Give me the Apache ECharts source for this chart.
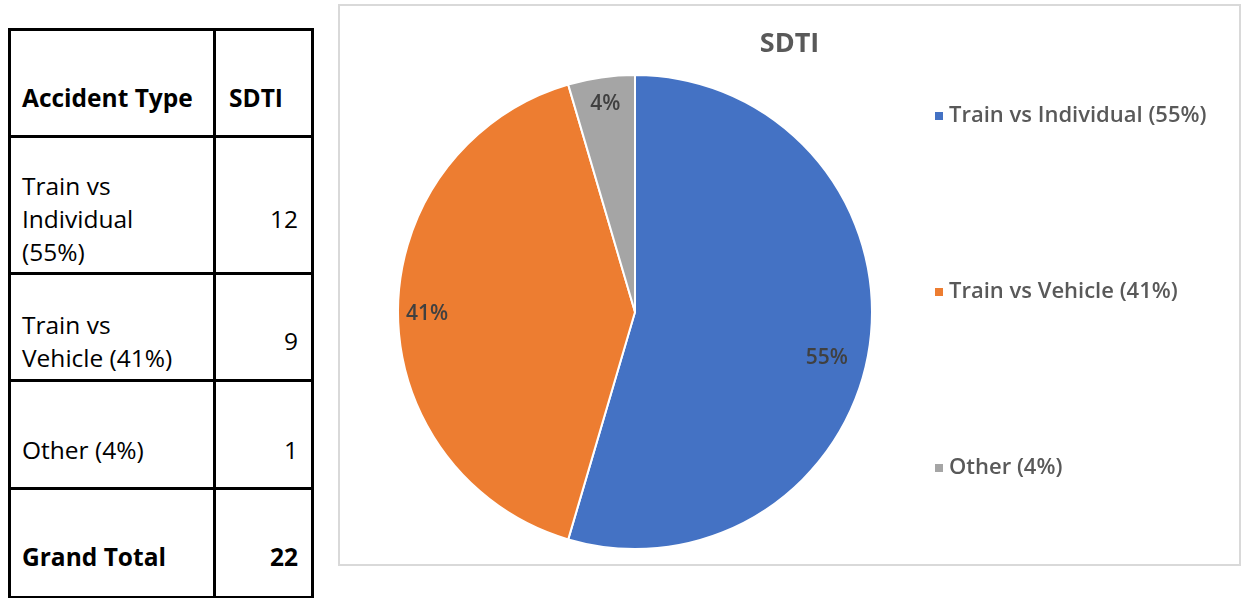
<!DOCTYPE html>
<html>
<head>
<meta charset="utf-8">
<script src="https://cdn.jsdelivr.net/npm/echarts@6/dist/echarts.min.js"></script>
<style>
  html, body { margin: 0; padding: 0; background: #fff; width: 1244px; height: 598px; overflow: hidden; }
  #tbl { position: absolute; left: 0; top: 0; width: 330px; height: 598px; font-family: "Open Sans", sans-serif; color: #000; }
  .ln { position: absolute; background: #000; }
  .tx { position: absolute; font-size: 24.5px; line-height: 33px; white-space: nowrap; }
  .b { font-weight: bold; }
  .num { text-align: right; width: 80px; }
  #box { position: absolute; left: 338px; top: 4px; width: 899px; height: 558px; border: 2px solid #d9d9d9; }
  #chart { position: absolute; left: 0; top: 0; width: 899px; height: 558px; }
</style>
</head>
<body>
<div id="tbl"></div>
<div id="box"><div id="chart"></div></div>
<script>
// ---- data ----
const categories = ['Train vs Individual (55%)', 'Train vs Vehicle (41%)', 'Other (4%)'];
const tableLabels = [['Train vs', 'Individual', '(55%)'], ['Train vs', 'Vehicle (41%)'], ['Other (4%)']];
const values = [12, 9, 1];
const percentLabels = ['55%', '41%', '4%'];
const headerLabels = ['Accident Type', 'SDTI'];
const totalLabel = 'Grand Total';
const totalValue = 22;
const chartTitle = 'SDTI';
const colors = ['#4472C4', '#ED7D31', '#A5A5A5'];
const labelOffsets = [[-14, 16], [0, 2], [0, -2]];

// ---- table (HTML) ----
(function () {
  const t = document.getElementById('tbl');
  const add = (cls, style, text) => {
    const d = document.createElement('div');
    d.className = cls; Object.assign(d.style, style);
    if (text !== undefined) d.textContent = text;
    t.appendChild(d);
  };
  const xs = [8, 213, 311];
  const ys = [28, 135, 272, 379, 487, 596];
  ys.forEach(y => add('ln', { left: '8px', top: y + 'px', width: '305px', height: '3px' }));
  xs.forEach(x => add('ln', { left: x + 'px', top: '28px', width: '3px', height: '570px' }));
  add('tx b', { left: '22px', top: '81px' }, headerLabels[0]);
  add('tx b', { left: '229px', top: '81px' }, headerLabels[1]);
  const rowTextTop = [169, 308, 433];
  const rowNumTop = [202, 324, 433];
  tableLabels.forEach((lines, i) => {
    lines.forEach((l, j) => add('tx', { left: '22px', top: (rowTextTop[i] + j * 33) + 'px' }, l));
    add('tx num', { left: '218px', top: rowNumTop[i] + 'px' }, String(values[i]));
  });
  add('tx b', { left: '22px', top: '540px' }, totalLabel);
  add('tx b num', { left: '218px', top: '540px' }, String(totalValue));
})();

// ---- chart ----
const chart = echarts.init(document.getElementById('chart'), null, { renderer: 'canvas' });
const pieData = categories.map((c, i) => ({ name: c, value: values[i], itemStyle: { color: colors[i] } }));
const labelData = categories.map((c, i) => ({
  name: c, value: values[i],
  label: { formatter: percentLabels[i], offset: labelOffsets[i] }
}));
chart.setOption({
  animation: false,
  title: {
    text: chartTitle, left: 'center', top: 20,
    textStyle: { fontFamily: 'Open Sans', fontSize: 27, fontWeight: 'bold', color: '#595959' }
  },
  legend: {
    orient: 'vertical', left: 588, top: 93,
    itemWidth: 10, itemHeight: 10, itemGap: 152,
    icon: 'rect',
    data: categories.map((c, i) => ({ name: c, itemStyle: { color: colors[i] } })),
    textStyle: { fontFamily: 'Open Sans', fontSize: 22, fontWeight: 600, color: '#595959', lineHeight: 24 }
  },
  series: [
    {
      type: 'pie', center: [295, 306], radius: 237, startAngle: 90, clockwise: true,
      silent: true,
      itemStyle: { borderColor: '#fff', borderWidth: 2 },
      label: { show: false }, labelLine: { show: false },
      data: pieData
    },
    {
      type: 'pie', center: [295, 306], radius: 410, startAngle: 90, clockwise: true,
      silent: true, z: 3,
      itemStyle: { color: 'rgba(0,0,0,0)', borderWidth: 0 },
      label: {
        show: true, position: 'inside',
        fontFamily: 'Open Sans', fontSize: 21, fontWeight: 600, color: '#404040'
      },
      labelLine: { show: false },
      emphasis: { disabled: true },
      data: labelData
    }
  ]
});
</script>
</body>
</html>
